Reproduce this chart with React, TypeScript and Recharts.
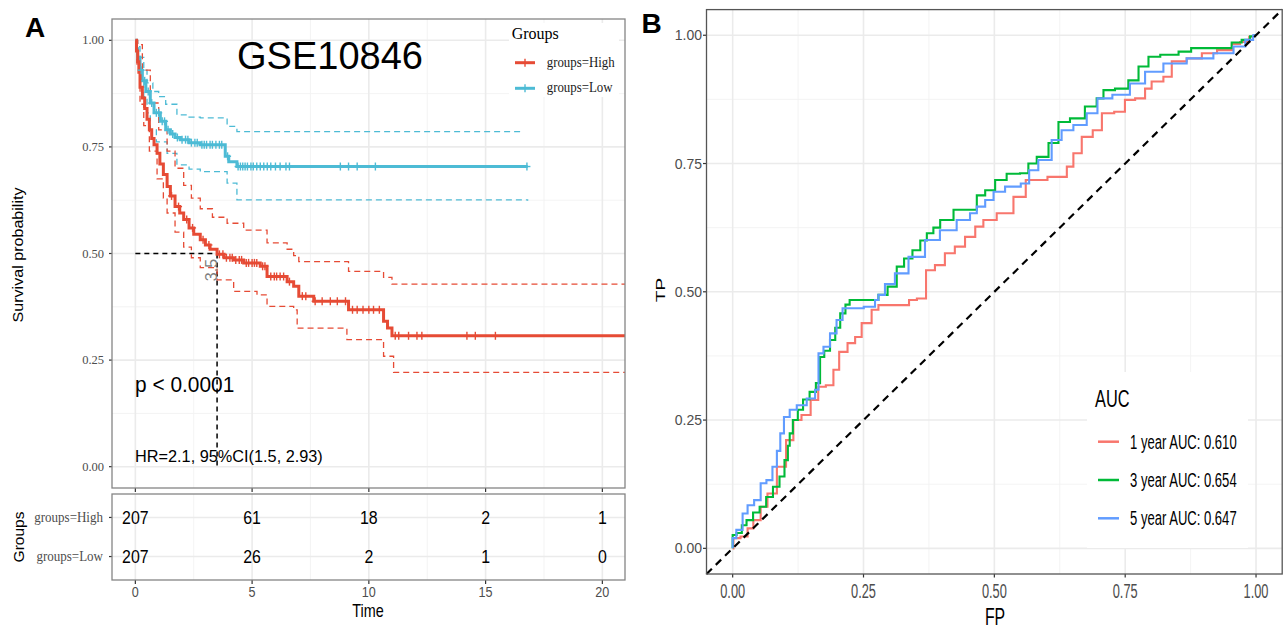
import React from "react";
import {
  CartesianGrid,
  ComposedChart,
  Line,
  ReferenceLine,
  Scatter,
  XAxis,
  YAxis,
} from "recharts";

const SANS = "'Liberation Sans', Arial, sans-serif";
const SERIF = "'Liberation Serif', 'Times New Roman', serif";
const HIGH = "#E64B35";
const LOW = "#4DBBD5";

// ---- panel A: Kaplan-Meier, GSE10846 ----
const highTime = [0, 0.05, 0.1, 0.15, 0.2, 0.3, 0.4, 0.5, 0.6, 0.7, 0.8, 0.93, 1.05, 1.2, 1.36, 1.5, 1.7, 1.9, 2.07, 2.3, 2.5, 2.78, 3.0, 3.2, 3.5, 3.8, 4.2, 4.64, 5.35, 5.64, 6.5, 6.78, 7.0, 7.64, 9.13, 10.63, 10.8, 10.99, 21];
const highSurv = [1, 0.975, 0.95, 0.925, 0.89, 0.865, 0.84, 0.815, 0.79, 0.77, 0.755, 0.735, 0.71, 0.685, 0.657, 0.635, 0.61, 0.595, 0.58, 0.56, 0.545, 0.532, 0.52, 0.51, 0.498, 0.49, 0.485, 0.478, 0.47, 0.446, 0.434, 0.423, 0.4, 0.388, 0.368, 0.341, 0.325, 0.307, 0.307];
const highUpperTime = [0, 0.1, 0.3, 0.64, 1.0, 1.36, 1.7, 2.07, 2.4, 2.78, 3.3, 3.93, 4.64, 5.64, 6.5, 6.78, 7.0, 9.13, 10.63, 10.99, 21];
const highUpper = [1, 0.99, 0.93, 0.853, 0.79, 0.74, 0.7, 0.66, 0.63, 0.605, 0.585, 0.571, 0.555, 0.525, 0.51, 0.495, 0.481, 0.458, 0.444, 0.428, 0.428];
const highLowerTime = [0, 0.07, 0.2, 0.36, 0.6, 0.93, 1.2, 1.36, 1.7, 2.07, 2.4, 2.78, 3.5, 4.21, 5.21, 5.64, 6.78, 6.93, 9.06, 10.63, 11.06, 21];
const highLower = [1, 0.94, 0.85, 0.8, 0.74, 0.675, 0.63, 0.595, 0.55, 0.515, 0.49, 0.467, 0.438, 0.411, 0.403, 0.376, 0.368, 0.325, 0.298, 0.259, 0.221, 0.221];
const highCensor = [1.55, 1.85, 2.2, 2.45, 2.9, 3.15, 3.6, 3.75, 3.9, 4.05, 4.15, 4.3, 4.45, 4.55, 4.75, 4.85, 5.0, 5.1, 5.2, 5.45, 5.55, 5.8, 5.95, 6.05, 6.2, 6.35, 6.6, 7.15, 7.3, 7.7, 8.0, 8.35, 8.65, 9.0, 9.3, 9.5, 9.75, 10.0, 10.2, 10.45, 11.13, 11.28, 11.7, 12.06, 12.27, 14.2, 14.56, 15.42];

const lowTime = [0, 0.05, 0.1, 0.2, 0.3, 0.45, 0.64, 0.8, 1.07, 1.3, 1.5, 1.7, 1.93, 2.3, 2.78, 3.85, 4.0, 4.35, 16.8];
const lowSurv = [1, 0.98, 0.96, 0.93, 0.905, 0.88, 0.853, 0.83, 0.81, 0.79, 0.78, 0.772, 0.767, 0.76, 0.755, 0.728, 0.715, 0.704, 0.704];
const lowUpperTime = [0, 0.1, 0.2, 0.36, 0.5, 0.75, 1.0, 1.3, 1.78, 2.3, 2.78, 3.93, 4.35, 16.6];
const lowUpper = [1, 0.985, 0.96, 0.93, 0.9, 0.88, 0.868, 0.85, 0.825, 0.82, 0.818, 0.798, 0.786, 0.786];
const lowLowerTime = [0, 0.07, 0.2, 0.36, 0.5, 0.64, 0.9, 1.36, 1.78, 2.3, 2.78, 3.93, 4.35, 16.8];
const lowLower = [1, 0.95, 0.91, 0.868, 0.83, 0.79, 0.762, 0.735, 0.708, 0.698, 0.692, 0.665, 0.626, 0.624];
const lowCensor = [0.25, 0.4, 0.55, 0.7, 0.9, 1.0, 1.15, 1.25, 1.4, 1.6, 1.8, 2.0, 2.15, 2.25, 2.4, 2.55, 2.65, 2.85, 2.95, 3.05, 3.2, 3.3, 3.45, 3.6, 3.7, 3.95, 4.4, 4.5, 4.6, 4.7, 4.8, 4.95, 5.05, 5.2, 5.35, 5.5, 5.65, 5.8, 6.0, 6.2, 6.45, 6.6, 8.78, 9.13, 9.5, 10.28, 16.77];

const medianTime = 3.5;
const kmTicksX = [0, 5, 10, 15, 20];
const kmMinorX = [2.5, 7.5, 12.5, 17.5];
const probTicks = [0, 0.25, 0.5, 0.75, 1];
const probMinor = [0.125, 0.375, 0.625, 0.875];

// number at risk
const riskTimes = [0, 5, 10, 15, 20];
const riskHigh = [207, 61, 18, 2, 1];
const riskLow = [207, 26, 2, 1, 0];
const groupNames = ["groups=High", "groups=Low"];

// ---- panel B: time-dependent ROC ----
const roc1FP = [0, 0.003, 0.027, 0.03, 0.049, 0.058, 0.075, 0.094, 0.11, 0.122, 0.141, 0.157, 0.17, 0.186, 0.199, 0.208, 0.231, 0.237, 0.256, 0.275, 0.282, 0.332, 0.342, 0.362, 0.377, 0.396, 0.415, 0.434, 0.454, 0.473, 0.485, 0.524, 0.549, 0.571, 0.632, 0.645, 0.657, 0.677, 0.699, 0.712, 0.746, 0.753, 0.785, 0.791, 0.81, 0.836, 0.842, 0.893, 0.9, 0.951, 0.957, 0.982, 0.992, 1];
const roc1TP = [0, 0.02, 0.023, 0.039, 0.055, 0.081, 0.107, 0.159, 0.211, 0.25, 0.26, 0.289, 0.315, 0.318, 0.348, 0.383, 0.4, 0.412, 0.439, 0.465, 0.474, 0.474, 0.484, 0.487, 0.542, 0.552, 0.575, 0.588, 0.607, 0.627, 0.64, 0.653, 0.685, 0.718, 0.724, 0.744, 0.77, 0.802, 0.815, 0.848, 0.851, 0.874, 0.877, 0.896, 0.91, 0.919, 0.949, 0.955, 0.965, 0.971, 0.983, 0.987, 0.997, 1];
const roc3FP = [0, 0, 0.015, 0.02, 0.033, 0.045, 0.058, 0.07, 0.084, 0.095, 0.103, 0.108, 0.11, 0.12, 0.129, 0.14, 0.154, 0.164, 0.17, 0.18, 0.192, 0.2, 0.211, 0.22, 0.227, 0.272, 0.285, 0.307, 0.32, 0.335, 0.352, 0.365, 0.377, 0.39, 0.403, 0.441, 0.46, 0.473, 0.492, 0.511, 0.536, 0.562, 0.568, 0.594, 0.613, 0.632, 0.657, 0.689, 0.702, 0.715, 0.746, 0.766, 0.785, 0.804, 0.83, 0.874, 0.878, 0.944, 0.963, 0.982, 0.995, 1];
const roc3TP = [0, 0.026, 0.03, 0.045, 0.055, 0.07, 0.081, 0.1, 0.12, 0.14, 0.172, 0.2, 0.224, 0.25, 0.27, 0.29, 0.305, 0.322, 0.373, 0.385, 0.406, 0.43, 0.458, 0.475, 0.484, 0.484, 0.494, 0.51, 0.549, 0.565, 0.581, 0.6, 0.614, 0.625, 0.64, 0.66, 0.66, 0.688, 0.698, 0.718, 0.73, 0.731, 0.75, 0.763, 0.79, 0.831, 0.838, 0.861, 0.877, 0.893, 0.896, 0.912, 0.939, 0.958, 0.962, 0.968, 0.975, 0.975, 0.986, 0.991, 0.998, 1];
const roc5FP = [0, 0, 0.014, 0.024, 0.033, 0.049, 0.058, 0.071, 0.081, 0.088, 0.094, 0.102, 0.116, 0.129, 0.154, 0.161, 0.167, 0.18, 0.192, 0.205, 0.215, 0.232, 0.269, 0.275, 0.282, 0.3, 0.32, 0.352, 0.383, 0.409, 0.447, 0.46, 0.473, 0.492, 0.505, 0.536, 0.565, 0.568, 0.6, 0.619, 0.638, 0.664, 0.689, 0.705, 0.746, 0.772, 0.804, 0.842, 0.893, 0.944, 0.97, 0.989, 1];
const roc5TP = [0, 0.02, 0.036, 0.068, 0.084, 0.094, 0.127, 0.133, 0.159, 0.19, 0.224, 0.256, 0.27, 0.279, 0.292, 0.309, 0.38, 0.393, 0.419, 0.445, 0.468, 0.468, 0.471, 0.484, 0.494, 0.515, 0.536, 0.568, 0.601, 0.62, 0.64, 0.653, 0.666, 0.679, 0.695, 0.705, 0.711, 0.737, 0.757, 0.796, 0.815, 0.825, 0.848, 0.877, 0.884, 0.906, 0.929, 0.945, 0.955, 0.965, 0.978, 0.991, 1];
const rocLabels = ["1 year AUC: 0.610", "3 year AUC: 0.654", "5 year AUC: 0.647"];
const rocColors = ["#F8766D", "#00BA38", "#619CFF"];

const zip = (ts: number[], vs: number[]) => ts.map((t, i) => ({ t, s: vs[i] }));
const stepAt = (ts: number[], vs: number[], t: number) => {
  let v = vs[0];
  ts.forEach((x, i) => {
    if (x <= t) v = vs[i];
  });
  return v;
};
const censorPts = (ts: number[], vs: number[], cs: number[]) =>
  cs.map((t) => ({ t, s: stepAt(ts, vs, t) }));
const rocPts = (fp: number[], tp: number[]) => fp.map((x, i) => ({ fp: x, tp: tp[i] }));

const EmptyTick = () => <g />;

function Plus({ cx, cy, color }: any) {
  return (
    <g stroke={color} strokeWidth={1.4}>
      <line x1={cx} x2={cx} y1={cy - 4} y2={cy + 4} />
      <line x1={cx - 3.5} x2={cx + 3.5} y1={cy} y2={cy} />
    </g>
  );
}

function Txt({ x, y, size, sx = 1, sy = 1, anchor = "start", rotate = false, weight = "normal", family = SANS, fill = "#000", children }: any) {
  const t = `translate(${x} ${y})${rotate ? " rotate(-90)" : ""} scale(${sx} ${sy})`;
  return (
    <text transform={t} fontSize={size} textAnchor={anchor} fontFamily={family} fontWeight={weight} fill={fill}>
      {children}
    </text>
  );
}

function KmYTick({ x, y, payload }: any) {
  return (
    <text x={x} y={y + 4} textAnchor="end" fontFamily={SERIF} fontSize={12.5} fill="#4D4D4D">
      {Number(payload.value).toFixed(2)}
    </text>
  );
}

function GroupTick({ x, y, payload }: any) {
  return (
    <Txt x={x} y={y + 4.5} size={14} sx={0.93} anchor="end" family={SERIF} fill="#4D4D4D">
      {groupNames[2 - payload.value]}
    </Txt>
  );
}

function TimeTick({ x, y, payload }: any) {
  return (
    <Txt x={x} y={y + 11} size={14} sx={0.9} anchor="middle" fill="#4D4D4D">
      {payload.value}
    </Txt>
  );
}

function RocXTick({ x, y, payload }: any) {
  return (
    <Txt x={x} y={y + 18.5} size={20} sx={0.64} anchor="middle" fill="#4D4D4D">
      {Number(payload.value).toFixed(2)}
    </Txt>
  );
}

function RocYTick({ x, y, payload }: any) {
  return (
    <Txt x={x} y={y + 5} size={14} anchor="end" fill="#4D4D4D">
      {Number(payload.value).toFixed(2)}
    </Txt>
  );
}

function RiskCell({ cx, cy, payload }: any) {
  return (
    <Txt x={cx} y={cy + 6.5} size={18.5} sx={0.86} anchor="middle">
      {payload.n}
    </Txt>
  );
}

const tickLine = { stroke: "#333333", strokeWidth: 1.2 };

function KmChart() {
  const dashed = { strokeWidth: 1.3, strokeDasharray: "6 4", dot: false, isAnimationActive: false, type: "stepAfter" as const };
  return (
    <ComposedChart width={640} height={494} margin={{ top: 19, right: 15, bottom: 0, left: 0 }}>
      <CartesianGrid horizontalValues={probMinor} verticalValues={kmMinorX} stroke="#F2F2F2" strokeWidth={0.9} />
      <CartesianGrid horizontalValues={probTicks} verticalValues={kmTicksX} stroke="#EBEBEB" strokeWidth={1.6} />
      <XAxis type="number" dataKey="t" domain={[-1, 20.97]} ticks={kmTicksX} allowDataOverflow height={6} tickSize={4} tick={EmptyTick} axisLine={false} tickLine={tickLine} />
      <YAxis type="number" dataKey="s" domain={[-0.05, 1.05]} ticks={probTicks} width={112} tickSize={3} tickMargin={5} tick={KmYTick} axisLine={false} tickLine={tickLine} />
      <ReferenceLine segment={[{ x: 0, y: 0.5 }, { x: medianTime, y: 0.5 }]} stroke="#000" strokeWidth={1.5} strokeDasharray="5 4" />
      <ReferenceLine segment={[{ x: medianTime, y: 0.5 }, { x: medianTime, y: 0 }]} stroke="#000" strokeWidth={1.5} strokeDasharray="5 4" />
      <Line data={zip(lowUpperTime, lowUpper)} dataKey="s" stroke={LOW} {...dashed} />
      <Line data={zip(lowLowerTime, lowLower)} dataKey="s" stroke={LOW} {...dashed} />
      <Line data={zip(highUpperTime, highUpper)} dataKey="s" stroke={HIGH} {...dashed} />
      <Line data={zip(highLowerTime, highLower)} dataKey="s" stroke={HIGH} {...dashed} />
      <Line data={zip(lowTime, lowSurv)} dataKey="s" type="stepAfter" stroke={LOW} strokeWidth={3} dot={false} isAnimationActive={false} />
      <Line data={zip(highTime, highSurv)} dataKey="s" type="stepAfter" stroke={HIGH} strokeWidth={3} dot={false} isAnimationActive={false} />
      <Scatter data={censorPts(lowTime, lowSurv, lowCensor)} dataKey="s" shape={(p: any) => <Plus {...p} color={LOW} />} isAnimationActive={false} />
      <Scatter data={censorPts(highTime, highSurv, highCensor)} dataKey="s" shape={(p: any) => <Plus {...p} color={HIGH} />} isAnimationActive={false} />
    </ComposedChart>
  );
}

function RiskTable() {
  const high = riskTimes.map((t, i) => ({ t, row: 2, n: riskHigh[i] }));
  const low = riskTimes.map((t, i) => ({ t, row: 1, n: riskLow[i] }));
  return (
    <ComposedChart width={640} height={135} margin={{ top: 0, right: 15, bottom: 0, left: 0 }}>
      <CartesianGrid horizontal={false} verticalValues={kmMinorX} stroke="#F2F2F2" strokeWidth={0.9} />
      <CartesianGrid horizontalValues={[1, 2]} verticalValues={kmTicksX} stroke="#EBEBEB" strokeWidth={1.6} />
      <XAxis type="number" dataKey="t" domain={[-1, 20.97]} ticks={riskTimes} height={49} tickSize={4} tickMargin={2} tick={TimeTick} axisLine={false} tickLine={tickLine} />
      <YAxis type="number" dataKey="row" domain={[0.4, 2.6]} ticks={[1, 2]} width={112} tickSize={3} tickMargin={6} tick={GroupTick} axisLine={false} tickLine={tickLine} />
      <Scatter data={high} dataKey="row" shape={RiskCell} isAnimationActive={false} />
      <Scatter data={low} dataKey="row" shape={RiskCell} isAnimationActive={false} />
    </ComposedChart>
  );
}

function RocChart() {
  const curves = [rocPts(roc1FP, roc1TP), rocPts(roc3FP, roc3TP), rocPts(roc5FP, roc5TP)];
  return (
    <ComposedChart width={643} height={629} margin={{ top: 9.6, right: 0.8, bottom: 0, left: 0 }}>
      <CartesianGrid horizontalValues={probMinor} verticalValues={probMinor} stroke="#F2F2F2" strokeWidth={0.9} />
      <CartesianGrid horizontalValues={probTicks} verticalValues={probTicks} stroke="#EBEBEB" strokeWidth={1.6} />
      <XAxis type="number" dataKey="fp" domain={[-0.05, 1.05]} ticks={probTicks} height={55} tickSize={3.5} tickMargin={2} tick={RocXTick} axisLine={false} tickLine={tickLine} />
      <YAxis type="number" dataKey="tp" domain={[-0.05, 1.05]} ticks={probTicks} width={66.5} tickSize={3.5} tickMargin={1} tick={RocYTick} axisLine={false} tickLine={tickLine} />
      {curves.map((c, i) => (
        <Line key={rocLabels[i]} data={c} dataKey="tp" type="step" stroke={rocColors[i]} strokeWidth={2.1} dot={false} isAnimationActive={false} />
      ))}
      <ReferenceLine segment={[{ x: -0.05, y: -0.05 }, { x: 1.05, y: 1.05 }]} stroke="#000" strokeWidth={2.2} strokeDasharray="7.5 5.5" />
    </ComposedChart>
  );
}

function Overlay() {
  return (
    <svg width={1283} height={629} style={{ position: "absolute", left: 0, top: 0, pointerEvents: "none" }}>
      {/* panel borders */}
      <rect x={112} y={19} width={513} height={469} fill="none" stroke="#858585" strokeWidth={1.3} />
      <rect x={112} y={494} width={513} height={86} fill="none" stroke="#858585" strokeWidth={1.3} />
      <rect x={706.5} y={9.6} width={575.7} height={564.4} fill="none" stroke="#555555" strokeWidth={1.3} />

      <Txt x={25} y={37} size={28} weight="bold">A</Txt>
      <Txt x={641.5} y={33} size={28} weight="bold">B</Txt>

      {/* panel A annotations */}
      <Txt x={237} y={69.3} size={38}>GSE10846</Txt>
      <Txt x={135} y={391.7} size={22} sx={0.95}>p &lt; 0.0001</Txt>
      <Txt x={135} y={461.5} size={16.3}>HR=2.1, 95%CI(1.5, 2.93)</Txt>
      <Txt x={217} y={270} size={16} anchor="middle" rotate fill="#7F7F7F">{String(medianTime)}</Txt>
      <Txt x={23.3} y={255} size={14} sx={1.15} anchor="middle" rotate>Survival probability</Txt>
      <Txt x={24} y={537} size={15.5} anchor="middle" rotate>Groups</Txt>
      <Txt x={368} y={616.5} size={18} sx={0.8} anchor="middle">Time</Txt>

      {/* panel A legend */}
      <rect x={509} y={23} width={110} height={74} fill="#fff" />
      <Txt x={511.7} y={38.5} size={16} family={SERIF}>Groups</Txt>
      {[HIGH, LOW].map((c, i) => {
        const y = 62.7 + i * 25.6;
        return (
          <g key={c}>
            <line x1={515} x2={535} y1={y} y2={y} stroke={c} strokeWidth={3} />
            <Plus cx={525} cy={y} color={c} />
            <Txt x={546.7} y={y + 4} size={14} sx={0.92} family={SERIF} fill="#1A1A1A">{groupNames[i]}</Txt>
          </g>
        );
      })}

      {/* panel B labels */}
      <Txt x={665} y={290} size={19} sy={0.7} anchor="middle" rotate>TP</Txt>
      <Txt x={995} y={625} size={24} sx={0.66} anchor="middle">FP</Txt>

      {/* panel B legend */}
      <rect x={1087} y={372} width={161} height={176} fill="#fff" />
      <Txt x={1095} y={406.7} size={23} sx={0.71}>AUC</Txt>
      {rocLabels.map((l, i) => {
        const y = 441.7 + i * 38.3;
        return (
          <g key={l}>
            <line x1={1098} x2={1119} y1={y} y2={y} stroke={rocColors[i]} strokeWidth={2.5} />
            <Txt x={1130} y={y + 7} size={19.5} sx={0.67}>{l}</Txt>
          </g>
        );
      })}
    </svg>
  );
}

export default function App() {
  return (
    <div style={{ position: "absolute", left: 0, top: 0, width: 1283, height: 629, background: "#fff", overflow: "hidden", fontFamily: SANS }}>
      <div style={{ position: "absolute", left: 0, top: 0 }}>
        <KmChart />
      </div>
      <div style={{ position: "absolute", left: 0, top: 494 }}>
        <RiskTable />
      </div>
      <div style={{ position: "absolute", left: 640, top: 0 }}>
        <RocChart />
      </div>
      <Overlay />
    </div>
  );
}
